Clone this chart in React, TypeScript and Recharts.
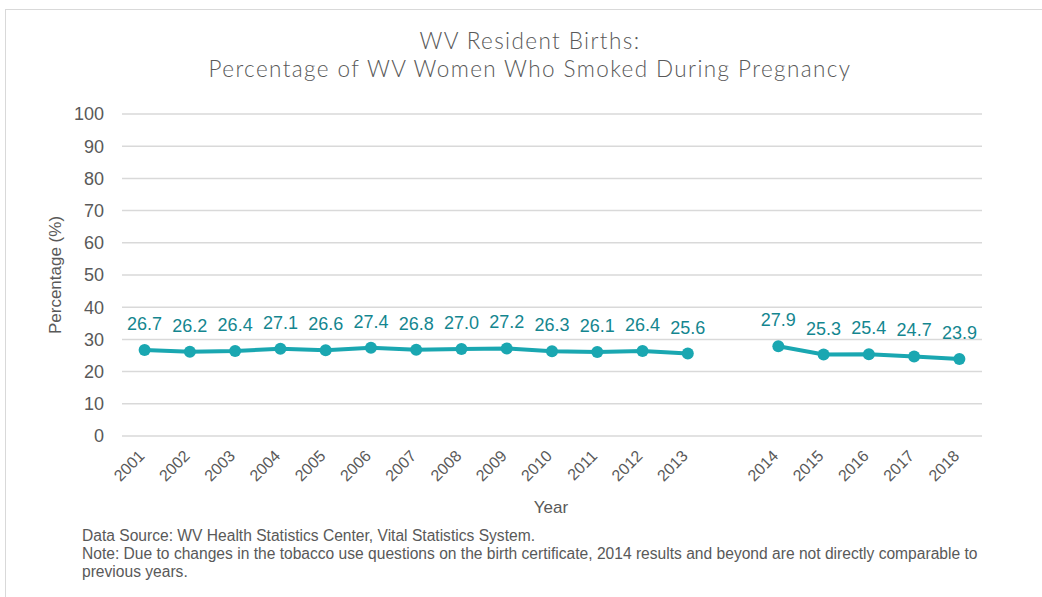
import React from 'react';
import {
    LineChart,
    Line,
    XAxis,
    YAxis,
    CartesianGrid,
    LabelList,
} from 'recharts';

// years with a blank slot between 2013 and 2014 (method change)
const years = ['2001', '2002', '2003', '2004', '2005', '2006', '2007', '2008', '2009', '2010', '2011', '2012', '2013', '', '2014', '2015', '2016', '2017', '2018'];
const smokedPct = [26.7, 26.2, 26.4, 27.1, 26.6, 27.4, 26.8, 27.0, 27.2, 26.3, 26.1, 26.4, 25.6, null, 27.9, 25.3, 25.4, 24.7, 23.9];
const yTicks = [0, 10, 20, 30, 40, 50, 60, 70, 80, 90, 100];

const chartData = years.map((year, i) => ({ year, pct: smokedPct[i] }));

const TEAL = '#1aa7b1';
const LABEL_TEAL = '#14868f';
const GREY = '#595959';
const FONT = '"Liberation Sans", Arial, sans-serif';

const YearTick = (props: any) => {
    const { x, y, payload } = props;
    if (!payload.value) return null;
    const ax = x + 1;
    const ay = y + 13;
    return (
        <text
            x={ax}
            y={ay}
            transform={`rotate(-45, ${ax}, ${ay})`}
            textAnchor="end"
            fontSize={16}
            fill={GREY}
            fontFamily={FONT}
        >
            {payload.value}
        </text>
    );
};

const ValueLabel = (props: any) => {
    const { x, y, value } = props;
    if (value === null || value === undefined) return null;
    return (
        <text x={x} y={y - 20} textAnchor="middle" fontSize={18} fill={LABEL_TEAL} fontFamily={FONT}>
            {Number(value).toFixed(1)}
        </text>
    );
};

const App: React.FC = () => {
    return (
        <div style={{ position: 'absolute', left: 0, top: 0, width: 1042, height: 597, background: '#fff', overflow: 'hidden' }}>
            {/* chart frame */}
            <div style={{ position: 'absolute', left: 5, top: 9, width: 1100, height: 700, border: '1px solid #d9d9d9' }} />

            <div style={{
                position: 'absolute', left: 0, top: 27, width: 1060, textAlign: 'center',
                fontFamily: 'Lato, "DejaVu Sans", sans-serif', fontWeight: 300, fontSize: 22.5,
                letterSpacing: 1.4, color: GREY, lineHeight: '28px'
            }}>
                WV Resident Births:<br />
                Percentage of WV Women Who Smoked During Pregnancy
            </div>

            <div style={{
                position: 'absolute', left: 56, top: 275, transform: 'translate(-50%, -50%) rotate(-90deg)',
                whiteSpace: 'nowrap', fontFamily: FONT, fontSize: 17, color: GREY
            }}>
                Percentage (%)
            </div>

            <div style={{ position: 'absolute', left: 0, top: 0 }}>
                <LineChart
                    width={1042}
                    height={597}
                    data={chartData}
                    margin={{ top: 114, right: 60, left: 62, bottom: 101 }}
                >
                    <CartesianGrid vertical={false} stroke="#d9d9d9" strokeWidth={1.5} />
                    <XAxis
                        dataKey="year"
                        axisLine={false}
                        tickLine={false}
                        interval={0}
                        height={60}
                        padding={{ left: 22.6, right: 22.6 }}
                        tick={<YearTick />}
                    />
                    <YAxis
                        domain={[0, 100]}
                        ticks={yTicks}
                        axisLine={false}
                        tickLine={false}
                        width={60}
                        tickMargin={12}
                        interval={0}
                        tick={{ fontSize: 18, fill: GREY, fontFamily: FONT }}
                    />
                    <Line
                        type="linear"
                        dataKey="pct"
                        stroke={TEAL}
                        strokeWidth={4}
                        dot={{ r: 6, fill: TEAL, stroke: TEAL, strokeWidth: 0 }}
                        activeDot={false}
                        isAnimationActive={false}
                    >
                        <LabelList dataKey="pct" content={<ValueLabel />} />
                    </Line>
                </LineChart>
            </div>

            <div style={{
                position: 'absolute', left: 551, top: 508, transform: 'translate(-50%, -50%)',
                fontFamily: FONT, fontSize: 17, color: GREY
            }}>
                Year
            </div>

            <div style={{
                position: 'absolute', left: 82, top: 527, fontFamily: FONT, fontSize: 15.6, color: GREY,
                lineHeight: '18px', whiteSpace: 'nowrap'
            }}>
                Data Source: WV Health Statistics Center, Vital Statistics System.<br />
                Note: Due to changes in the tobacco use questions on the birth certificate, 2014 results and beyond are not directly comparable to<br />
                previous years.
            </div>
        </div>
    );
};

export default App;
